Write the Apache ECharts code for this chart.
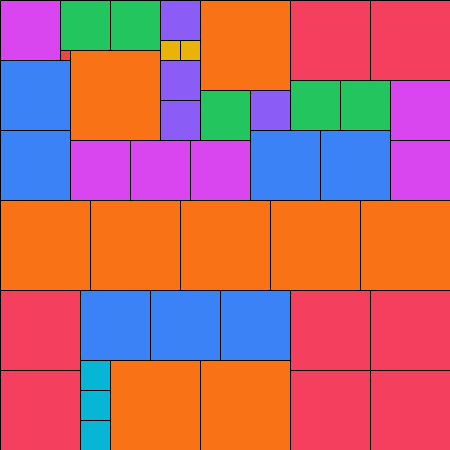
<!DOCTYPE html>
<html><head><meta charset="utf-8">
<script src="https://cdn.jsdelivr.net/npm/echarts@6/dist/echarts.min.js"></script>
<style>html,body{margin:0;padding:0;background:#fff}#c{width:450px;height:450px}</style>
</head><body><div id="c"></div>
<script>
// Square side lengths per category and their colours
const categories = [10, 20, 30, 40, 50, 60, 70, 80, 90];
const categoryColors = ['#ef4444', '#eab308', '#06b6d4', '#8b5cf6', '#22c55e', '#d946ef', '#3b82f6', '#f43f5e', '#f97316'];
// Each square: left x, top y (in value units), side
const xs    = [0, 390, 70, 130, 190, 390,   60, 110, 200, 290, 340,   160, 160, 160, 250,   160, 180,   60,
               200, 70, 0, 90, 180, 270, 360, 110, 200,
               290, 370, 0, 0, 290, 370, 290, 370,
               0, 0, 250, 320, 80, 150, 220,
               80, 80, 80];
const ys    = [0, 80, 140, 140, 140, 140,   0, 0, 90, 80, 80,   0, 60, 100, 90,   40, 40,   50,
               0, 50, 200, 200, 200, 200, 200, 360, 360,
               0, 0, 290, 370, 290, 290, 370, 370,
               60, 130, 130, 130, 290, 290, 290,
               360, 390, 420];
const sizes = [60, 60, 60, 60, 60, 60,   50, 50, 50, 50, 50,   40, 40, 40, 40,   20, 20,   10,
               90, 90, 90, 90, 90, 90, 90, 90, 90,
               80, 80, 80, 80, 80, 80, 80, 80,
               70, 70, 70, 70, 70, 70, 70,
               30, 30, 30];

const data = xs.map((x, i) => [x, ys[i], sizes[i]]);
const chart = echarts.init(document.getElementById('c'));
chart.setOption({
  animation: false,
  grid: {left: 0, top: 0, width: 450, height: 450},
  xAxis: {type: 'value', min: 0, max: 450, show: false},
  yAxis: {type: 'value', min: 0, max: 450, inverse: true, show: false},
  series: [{
    type: 'custom',
    data: data,
    renderItem: function (params, api) {
      const x = api.value(0), y = api.value(1), s = api.value(2);
      const p0 = api.coord([x, y]);
      const p1 = api.coord([x + s, y + s]);
      const color = categoryColors[categories.indexOf(s)];
      return {
        type: 'rect',
        shape: {x: p0[0] + 0.5, y: p0[1] + 0.5, width: p1[0] - p0[0], height: p1[1] - p0[1]},
        style: {fill: color, stroke: '#000', lineWidth: 1}
      };
    }
  }]
});
</script></body></html>
